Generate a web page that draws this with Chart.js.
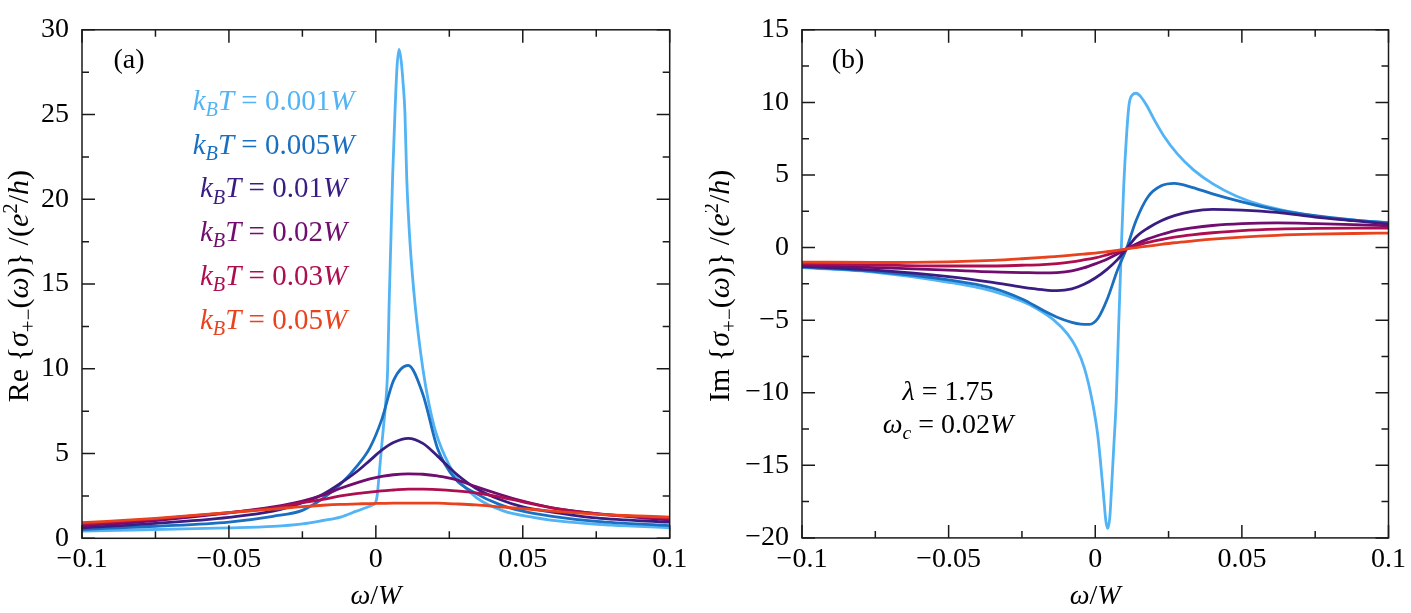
<!DOCTYPE html>
<html>
<head>
<meta charset="utf-8">
<script src="https://cdn.jsdelivr.net/npm/chart.js@4.4.1/dist/chart.umd.min.js"></script>
<style>
  html, body { margin: 0; padding: 0; background: #fff; }
  #wrap { position: relative; width: 1411px; height: 613px; }
  .panel { position: absolute; top: 0; }
</style>
</head>
<body>
<div id="wrap">
  <canvas id="chartA" class="panel" style="left:0" width="705" height="613"></canvas>
  <canvas id="chartB" class="panel" style="left:705px" width="706" height="613"></canvas>
</div>
<script>
// ---- data ----
// temperatures (k_B T / W) and line colours
const temps = ['0.001', '0.005', '0.01', '0.02', '0.03', '0.05'];
const colors = ['#52b4f5', '#1a6fc0', '#3b1d82', '#700d6e', '#ad0e4f', '#e8431e'];

// panel (a): Re sigma, coldest curve sampled on a finer grid
const omegaFineA = [-0.1, -0.075, -0.05, -0.035, -0.025, -0.018, -0.012, -0.0066, -0.0032, -0.0012,
  0, 0.0005, 0.001, 0.0018, 0.0025, 0.0033, 0.004, 0.0045, 0.0051, 0.0057,
  0.0065, 0.0072, 0.0079, 0.0086, 0.0093, 0.0099, 0.0105, 0.0116, 0.0134, 0.016,
  0.018, 0.0205, 0.025, 0.0286, 0.0343, 0.0434, 0.0536, 0.066, 0.08, 0.1];
const re001 = [0.42, 0.52, 0.61, 0.7, 0.85, 1.05, 1.25, 1.6, 1.82, 1.97,
  2.15, 2.6, 3.5, 5.1, 6.4, 7.9, 9.9, 13.7, 17.5, 21.3,
  25.1, 27.8, 28.85, 28.2, 26.8, 25.1, 21.3, 17.5, 13.7, 10.0,
  8.0, 6.2, 4.3, 3.34, 2.39, 1.62, 1.24, 0.95, 0.78, 0.62];

const omegaA = [-0.1, -0.075, -0.05, -0.035, -0.025, -0.018, -0.012, -0.006, -0.002, 0.002,
  0.006, 0.011, 0.016, 0.021, 0.027, 0.034, 0.042, 0.05, 0.06, 0.075, 0.1];
const re005 = [0.52, 0.71, 0.96, 1.3, 1.65, 2.35, 3.2, 4.35, 5.35, 7.0,
  9.3, 10.2, 8.5, 5.3, 3.5, 2.65, 2.0, 1.6, 1.3, 1.0, 0.75];
const re01 = [0.62, 0.88, 1.24, 1.6, 2.1, 2.6, 3.25, 4.0, 4.6, 5.2,
  5.65, 5.9, 5.6, 4.85, 3.85, 2.95, 2.3, 1.85, 1.55, 1.2, 0.95];
const re02 = [0.73, 1.05, 1.5, 1.85, 2.2, 2.55, 2.95, 3.3, 3.5, 3.65,
  3.75, 3.8, 3.78, 3.68, 3.48, 3.05, 2.6, 2.2, 1.8, 1.45, 1.08];
const re03 = [0.82, 1.13, 1.52, 1.8, 2.1, 2.3, 2.5, 2.65, 2.72, 2.8,
  2.85, 2.9, 2.9, 2.87, 2.8, 2.68, 2.45, 2.15, 1.8, 1.45, 1.17];
const re05 = [0.92, 1.18, 1.52, 1.72, 1.87, 1.95, 2.0, 2.03, 2.05, 2.06,
  2.07, 2.08, 2.08, 2.07, 2.03, 1.97, 1.86, 1.75, 1.6, 1.42, 1.25];

// panel (b): Im sigma
const omegaFineB = [-0.1, -0.075, -0.05, -0.035, -0.025, -0.02, -0.0144, -0.0095, -0.0065, -0.0037,
  -0.001, 0.0009, 0.0028, 0.0036, 0.0043, 0.005, 0.0056, 0.0063, 0.0072, 0.008,
  0.0089, 0.0097, 0.0106, 0.0115, 0.0126, 0.014, 0.0155, 0.0175, 0.02, 0.0235,
  0.028, 0.0335, 0.04, 0.048, 0.057, 0.067, 0.08, 0.1];
const im001 = [-1.38, -1.7, -2.39, -3.0, -3.7, -4.2, -4.95, -5.95, -6.9, -8.3,
  -10.6, -13.0, -17.0, -18.8, -19.35, -18.5, -16.4, -13.8, -10.3, -5.3,
  0, 4.2, 7.5, 9.8, 10.5, 10.63, 10.4, 9.8, 8.85, 7.65,
  6.45, 5.35, 4.4, 3.55, 2.9, 2.45, 2.02, 1.72];

const omegaMidB = [-0.1, -0.075, -0.05, -0.035, -0.025, -0.018, -0.013, -0.008, -0.005, -0.002,
  0.001, 0.004, 0.0075, 0.0106, 0.014, 0.018, 0.0225, 0.027, 0.033, 0.04,
  0.05, 0.062, 0.075, 0.088, 0.1];
const im005 = [-1.34, -1.65, -2.23, -2.8, -3.55, -4.3, -4.8, -5.15, -5.27, -5.29,
  -4.85, -3.6, -1.6, -0.1, 1.9, 3.5, 4.25, 4.42, 4.15, 3.7,
  3.15, 2.6, 2.2, 1.9, 1.7];

const omegaB = [-0.1, -0.075, -0.05, -0.035, -0.025, -0.018, -0.013, -0.008, -0.004, 0,
  0.004, 0.0075, 0.0106, 0.014, 0.018, 0.0225, 0.027, 0.033, 0.04, 0.05,
  0.062, 0.075, 0.088, 0.1];
const im01 = [-1.3, -1.56, -2.0, -2.4, -2.72, -2.9, -2.97, -2.85, -2.55, -2.1,
  -1.5, -0.85, -0.1, 0.75, 1.35, 1.85, 2.2, 2.5, 2.63, 2.58,
  2.42, 2.1, 1.85, 1.62];
const im02 = [-1.2, -1.38, -1.56, -1.68, -1.72, -1.75, -1.72, -1.6, -1.4, -1.12,
  -0.8, -0.45, -0.1, 0.25, 0.6, 0.9, 1.15, 1.35, 1.52, 1.65,
  1.7, 1.65, 1.58, 1.5];
const im03 = [-1.12, -1.2, -1.27, -1.27, -1.22, -1.17, -1.1, -0.98, -0.85, -0.71,
  -0.5, -0.3, -0.1, 0.12, 0.35, 0.55, 0.72, 0.88, 1.02, 1.17,
  1.27, 1.32, 1.34, 1.34];
const im05 = [-1.0, -1.03, -0.98, -0.88, -0.77, -0.68, -0.61, -0.52, -0.45, -0.38,
  -0.28, -0.19, -0.1, 0.0, 0.1, 0.22, 0.33, 0.45, 0.58, 0.72,
  0.84, 0.92, 0.97, 1.0];

// ---- helpers ----
const SERIF = '"Liberation Serif", "Times New Roman", serif';
const FS = 28;

const pts = (xs, ys) => xs.map((x, i) => ({ x, y: ys[i] }));
const fmt = v => {
  const r = Math.round(v * 1000) / 1000;
  return r < 0 ? '\u2212' + String(-r) : String(r);
};
const fontFor = (size, italic) => (italic ? 'italic ' : '') + size + 'px ' + SERIF;
const partSize = (p, size) => (p.s ? size * 0.7 : size);

function richWidth(ctx, parts, size) {
  let w = 0;
  parts.forEach(p => {
    ctx.font = fontFor(partSize(p, size), p.i);
    w += ctx.measureText(p.t).width;
  });
  return w;
}

// draws a line of mixed italic / sub / sup text centred on x, baseline y
function drawRich(ctx, parts, x, y, size, color) {
  let cx = x - richWidth(ctx, parts, size) / 2;
  ctx.fillStyle = color;
  ctx.textAlign = 'left';
  ctx.textBaseline = 'alphabetic';
  parts.forEach(p => {
    ctx.font = fontFor(partSize(p, size), p.i);
    let dy = 0;
    if (p.s === 'sub') dy = size * 0.22;
    if (p.s === 'sup') dy = -size * 0.38;
    ctx.fillText(p.t, cx, y + dy);
    cx += ctx.measureText(p.t).width;
  });
}

function yTitle(prefix) {
  return [
    { t: prefix + ' ' }, { t: '{' }, { t: 'σ', i: 1 }, { t: '+−', s: 'sub' },
    { t: '(' }, { t: 'ω', i: 1 }, { t: ')' }, { t: '}' }, { t: ' /(' },
    { t: 'e', i: 1 }, { t: '2', s: 'sup' }, { t: '/' }, { t: 'h', i: 1 }, { t: ')' }
  ];
}
const xTitle = [{ t: 'ω', i: 1 }, { t: '/' }, { t: 'W', i: 1 }];

// frame with inward ticks on all four sides
const framePlugin = {
  id: 'frame',
  afterDatasetsDraw(chart, args, opts) {
    const { ctx, chartArea: a, scales: { x, y } } = chart;
    ctx.save();
    ctx.strokeStyle = '#1a1a1a';
    ctx.lineWidth = 1.5;
    ctx.beginPath();
    const nx = Math.round((x.max - x.min) / opts.xMinor);
    for (let i = 0; i <= nx; i++) {
      const px = x.getPixelForValue(x.min + i * opts.xMinor);
      const len = i % 2 === 0 ? 13 : 7;
      ctx.moveTo(px, a.bottom); ctx.lineTo(px, a.bottom - len);
      ctx.moveTo(px, a.top); ctx.lineTo(px, a.top + len);
    }
    const ny = Math.round((y.max - y.min) / opts.yMinor);
    for (let i = 0; i <= ny; i++) {
      const py = y.getPixelForValue(y.min + i * opts.yMinor);
      const len = i % 2 === 0 ? 13 : 7;
      ctx.moveTo(a.left, py); ctx.lineTo(a.left + len, py);
      ctx.moveTo(a.right, py); ctx.lineTo(a.right - len, py);
    }
    ctx.stroke();
    ctx.strokeRect(a.left, a.top, a.right - a.left, a.bottom - a.top);
    ctx.restore();
  }
};

// free text: panel tag, axis titles, annotations
const textPlugin = {
  id: 'texts',
  afterDraw(chart, args, opts) {
    const { ctx, chartArea: a } = chart;
    ctx.save();
    const midX = (a.left + a.right) / 2;
    const midY = (a.top + a.bottom) / 2 + 2;
    drawRich(ctx, xTitle, midX, 604, FS, '#000');
    ctx.save();
    ctx.translate(opts.yTitleX, midY);
    ctx.rotate(-Math.PI / 2);
    drawRich(ctx, yTitle(opts.prefix), 0, 0, 30, '#000');
    ctx.restore();
    drawRich(ctx, [{ t: opts.tag }], opts.tagX, 68, FS, '#000');
    (opts.lines || []).forEach(l => drawRich(ctx, l.parts, l.x, l.y, l.size || FS, l.color));
    ctx.restore();
  }
};

function makeDatasets(series) {
  return series.map((s, i) => ({
    data: pts(s.xs, s.ys),
    borderColor: colors[i],
    borderWidth: 2.8,
    pointRadius: 0,
    fill: false,
    cubicInterpolationMode: 'monotone',
    order: series.length - 1 - i
  }));
}

function makeOptions(yMin, yMax, yWidth, padRight, padTop, xHeight, textOpts) {
  const tickFont = { family: SERIF, size: FS };
  return {
    responsive: false,
    animation: false,
    devicePixelRatio: 1,
    layout: { padding: { left: 0, right: padRight, top: padTop, bottom: 0 } },
    plugins: {
      legend: { display: false },
      tooltip: { enabled: false },
      frame: { xMinor: 0.025, yMinor: 2.5 },
      texts: textOpts
    },
    scales: {
      x: {
        type: 'linear', min: -0.1, max: 0.1,
        grid: { display: false, drawTicks: false },
        border: { display: false },
        ticks: { stepSize: 0.05, font: tickFont, color: '#000', padding: 5, maxRotation: 0, autoSkip: false, callback: fmt },
        afterFit: s => { s.height = xHeight; }
      },
      y: {
        type: 'linear', min: yMin, max: yMax,
        grid: { display: false, drawTicks: false },
        border: { display: false },
        ticks: { stepSize: 5, font: tickFont, color: '#000', padding: 13, callback: fmt },
        afterFit: s => { s.width = yWidth; }
      }
    }
  };
}

// ---- panel (a) ----
const legendLines = temps.map((t, i) => ({
  parts: [{ t: 'k', i: 1 }, { t: 'B', i: 1, s: 'sub' }, { t: 'T', i: 1 }, { t: ' = ' + t }, { t: 'W', i: 1 }],
  x: 273.5, y: 110 + i * 43.7, color: colors[i], size: 29
}));

new Chart(document.getElementById('chartA'), {
  type: 'line',
  data: {
    datasets: makeDatasets([
      { xs: omegaFineA, ys: re001 },
      { xs: omegaA, ys: re005 },
      { xs: omegaA, ys: re01 },
      { xs: omegaA, ys: re02 },
      { xs: omegaA, ys: re03 },
      { xs: omegaA, ys: re05 }
    ])
  },
  options: makeOptions(0, 30, 82, 35.3, 15, 74.7, {
    prefix: 'Re', tag: '(a)', tagX: 129, yTitleX: 28, lines: legendLines
  }),
  plugins: [framePlugin, textPlugin]
});

// ---- panel (b) ----
const noteLines = [
  { parts: [{ t: 'λ', i: 1 }, { t: ' = 1.75' }], x: 243, y: 400, color: '#000' },
  { parts: [{ t: 'ω', i: 1 }, { t: 'c', i: 1, s: 'sub' }, { t: ' = 0.02' }, { t: 'W', i: 1 }], x: 243, y: 433, color: '#000' }
];

new Chart(document.getElementById('chartB'), {
  type: 'line',
  data: {
    datasets: makeDatasets([
      { xs: omegaFineB, ys: im001 },
      { xs: omegaMidB, ys: im005 },
      { xs: omegaB, ys: im01 },
      { xs: omegaB, ys: im02 },
      { xs: omegaB, ys: im03 },
      { xs: omegaB, ys: im05 }
    ])
  },
  options: makeOptions(-20, 15, 97, 21.6, 15.3, 75.1, {
    prefix: 'Im', tag: '(b)', tagX: 143, yTitleX: 24, lines: noteLines
  }),
  plugins: [framePlugin, textPlugin]
});
</script>
</body>
</html>
